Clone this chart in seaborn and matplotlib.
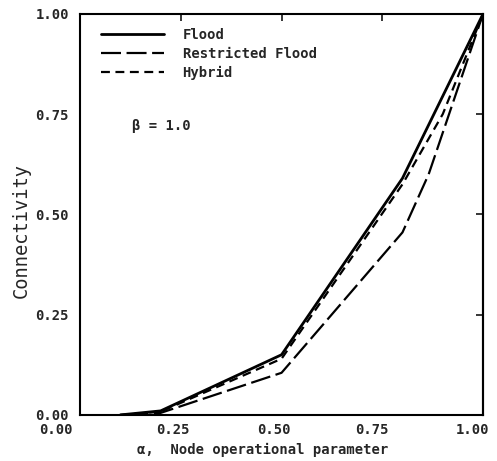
import pandas as pd
import seaborn as sns
import matplotlib.pyplot as plt
import matplotlib.transforms as mtransforms

# valores
alpha_flood = [0.10, 0.20, 0.50, 0.80, 1.00]
conn_flood = [0.0, 0.010, 0.150, 0.590, 1.0]

alpha_restricted = [0.12, 0.20, 0.50, 0.80, 0.865, 1.00]
conn_restricted = [0.0, 0.005, 0.105, 0.455, 0.600, 1.0]

alpha_hybrid = [0.10, 0.20, 0.50, 0.80, 0.90, 1.00]
conn_hybrid = [0.0, 0.008, 0.140, 0.575, 0.750, 1.0]

ticks = [0.00, 0.25, 0.50, 0.75, 1.00]
tick_labels = ['0.00', '0.25', '0.50', '0.75', '1.00']

sns.set_style('white')
plt.rcParams['font.family'] = ['DejaVu Sans Mono']

fig = plt.figure(figsize=(4.97, 4.61), dpi=100)
ax = fig.add_axes([0.161, 0.100, 0.811, 0.870])

df_f = pd.DataFrame({'alpha': alpha_flood, 'conn': conn_flood})
df_r = pd.DataFrame({'alpha': alpha_restricted, 'conn': conn_restricted})
df_h = pd.DataFrame({'alpha': alpha_hybrid, 'conn': conn_hybrid})

sns.lineplot(data=df_f, x='alpha', y='conn', color='black', lw=2.0,
             label='Flood', ax=ax)
sns.lineplot(data=df_r, x='alpha', y='conn', color='black', lw=1.6,
             linestyle=(0, (9, 2.5)), label='Restricted Flood', ax=ax)
sns.lineplot(data=df_h, x='alpha', y='conn', color='black', lw=1.6,
             linestyle=(0, (4, 2.5)), label='Hybrid', ax=ax)

ax.set_xlim(0, 1)
ax.set_ylim(0, 1)
ax.set_xticks(ticks)
ax.set_xticklabels(tick_labels, fontsize=10, fontweight='bold')
ax.set_yticks(ticks)
ax.set_yticklabels(tick_labels, fontsize=10, fontweight='bold')

for s in ax.spines.values():
    s.set_linewidth(1.5)
    s.set_color('black')

ax.tick_params(axis='x', direction='in', length=5, width=1.3, top=True, pad=6)
ax.tick_params(axis='y', direction='out', length=5, width=1.3, pad=3)

right = ax.secondary_yaxis('right')
right.set_yticks(ticks)
right.tick_params(direction='in', length=5, width=1.3, labelright=False)
right.spines['right'].set_linewidth(1.5)

# etiquetas del eje x corridas a la izquierda como en el original
shifts = [-24, -8, -8, -10, -11]
for lab, dx in zip(ax.get_xticklabels(), shifts):
    off = mtransforms.ScaledTranslation(dx / 100, 0, fig.dpi_scale_trans)
    lab.set_transform(lab.get_transform() + off)

ax.set_xlabel('α,  Node operational parameter', fontsize=10, fontweight='bold')
ax.xaxis.set_label_coords(0.454, -0.07)
ax.set_ylabel('Connectivity', fontsize=13.5)
ax.yaxis.set_label_coords(-0.122, 0.46)

ax.text(0.13, 0.72, 'β = 1.0', fontsize=10, fontweight='bold', ha='left', va='center')

leg = ax.legend(loc='upper left', bbox_to_anchor=(0.02, 0.995), frameon=False,
                handlelength=4.6, handletextpad=1.3, labelspacing=0.35,
                prop={'family': 'DejaVu Sans Mono', 'weight': 'bold', 'size': 10})

plt.savefig('out.png', dpi=100)
